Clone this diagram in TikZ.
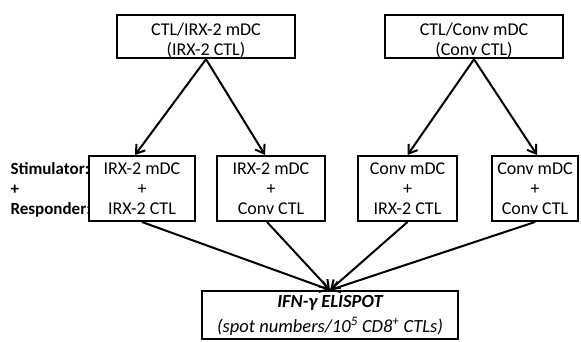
\documentclass[tikz,border=0pt]{standalone}
\usepackage{fontspec}
\setmainfont{Carlito}
\usetikzlibrary{arrows.meta}

\begin{document}
\begin{tikzpicture}[
	x=1pt, y=-1pt,
	font=\fontsize{18}{20}\selectfont,
	cell/.style={draw, line width=2pt, fill=white, align=center, inner sep=0pt},
	link/.style={line width=2pt, -{Straight Barb[length=8pt, width=11pt]}}
	]
	\useasboundingbox (0,0) rectangle (581,341);

	\node[anchor=west, align=left, font=\fontsize{17}{20}\selectfont\bfseries]
		(roles) at (7,190) {Stimulator:\\+\\Responder:};

	% co-culture (text sits low in the box)
	\node[cell, minimum width=178pt, minimum height=43pt]
		(irx) at (206,36.5) {\rule{0pt}{21pt}CTL/IRX-2 mDC\\(IRX-2 CTL)};
	\node[cell, minimum width=178pt, minimum height=43pt]
		(conv) at (474,36.5) {\rule{0pt}{21pt}CTL/Conv mDC\\(Conv CTL)};

	% restimulation
	\node[cell, minimum width=106pt, minimum height=65pt]
		(ii) at (142,188.5) {IRX-2 mDC\\+\\IRX-2 CTL};
	\node[cell, minimum width=108pt, minimum height=65pt]
		(ic) at (271,188.5) {IRX-2 mDC\\+\\Conv CTL};
	\node[cell, minimum width=99pt, minimum height=65pt]
		(ci) at (407.5,188.5) {Conv mDC\\+\\IRX-2 CTL};
	\node[cell, minimum width=86pt, minimum height=65pt]
		(cc) at (535,188.5) {Conv mDC\\+\\Conv CTL};

	% readout
	\node[cell, minimum width=256pt, minimum height=48pt,
		font=\fontsize{18.5}{25}\selectfont\itshape]
		(elispot) at (330,315) {\textbf{IFN-γ ELISPOT}\\(spot numbers/10\textsuperscript{5} CD8\textsuperscript{+} CTLs)};

	\draw[link] (irx.south) -- ([xshift=-7pt]ii.north);
	\draw[link] (irx.south) -- ([xshift=-6pt]ic.north);
	\draw[link] (conv.south) -- (ci.north);
	\draw[link] (conv.south) -- ([xshift=2pt]cc.north);

	\draw[link] (ii.south) -- (elispot.north);
	\draw[link] ([xshift=-4pt]ic.south) -- (elispot.north);
	\draw[link] (ci.south) -- (elispot.north);
	\draw[link] (cc.south) -- (elispot.north);
\end{tikzpicture}
\end{document}
